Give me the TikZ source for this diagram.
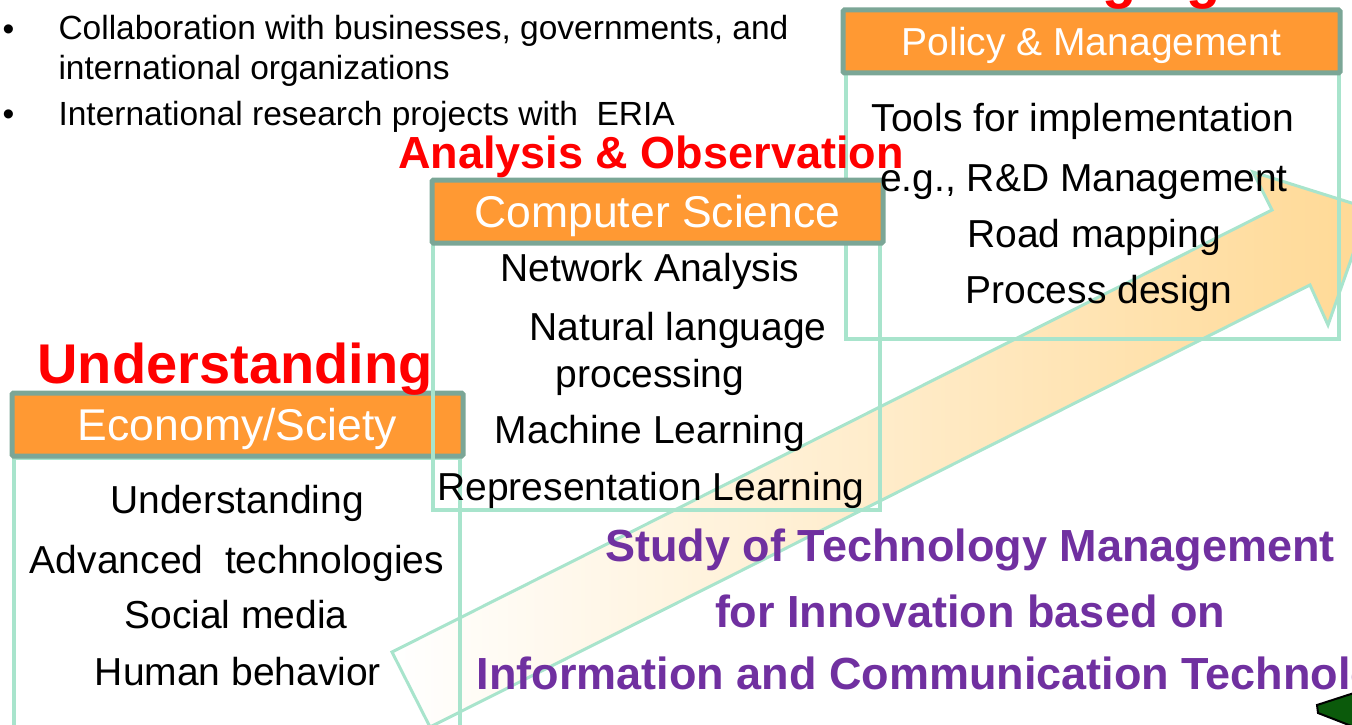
\documentclass[tikz,border=0pt]{standalone}
\usepackage{fontspec}
\setmainfont{Liberation Sans}
\usepackage{xcolor}
\usepackage{tikz}
\usetikzlibrary{positioning}

\definecolor{hdrfill}{HTML}{FF9933}
\definecolor{hdrline}{HTML}{7BA696}
\definecolor{mint}{HTML}{A8E4CC}
\definecolor{arrowc}{HTML}{FFD995}
\definecolor{studyc}{HTML}{7030A0}
\definecolor{slabc}{HTML}{0B5A0B}

\begin{document}
\begin{tikzpicture}[x=1pt, y=-1pt,
    hdr/.style={draw=hdrline, fill=hdrfill, line width=5pt, rounded corners=1.5pt,
      text=white, inner sep=0pt, text depth=0pt},
    bodybox/.style={draw=mint, line width=4pt},
    item/.style={anchor=base, font=\fontsize{39}{46}\selectfont},
    bullet/.style={anchor=base west, font=\fontsize{33.5}{40}\selectfont},
    stage/.style={anchor=base, text=red, font=\bfseries\fontsize{56}{64}\selectfont},
    study/.style={anchor=base, text=studyc, font=\bfseries\fontsize{45}{54}\selectfont}]

  \useasboundingbox (0,0) rectangle (1352,725);

  % the big arrow behind everything
  \path[draw=mint, line width=3pt, left color=white, middle color=arrowc!75, right color=arrowc]
    (392,652) -- (1272,210) -- (1253,172) -- (1369,208.5) -- (1328,325)
    -- (1310,285) -- (430,727) -- cycle;

  % Policy & Management
  \draw[bodybox] (846,73) rectangle (1339,339);
  \node[hdr, minimum width=497pt, minimum height=63pt, text height=28pt,
    font=\fontsize{39}{46}\selectfont] (policy) at (1091.5,41.5) {Policy \& Management};

  % Economy/Sciety
  \draw[bodybox] (14,458) rectangle (460,760);
  \node[hdr, minimum width=451pt, minimum height=63pt, text height=31.9pt,
    font=\fontsize{44.5}{52}\selectfont] (econ) at (237.5,424.5) {Economy/Sciety};

  % Computer Science
  \draw[bodybox] (433,243) rectangle (880,510);
  \node[hdr, minimum width=451pt, minimum height=63pt, text height=31.9pt,
    font=\fontsize{44.5}{52}\selectfont] (cs) at (657.5,211.5) {Computer Science};

  % red stage titles
  \node[stage] (tunder) at (235,383) {Understanding};
  \node[stage, font=\bfseries\fontsize{45}{54}\selectfont] (tanal) at (651,168) {Analysis \& Observation};
  \node[stage] (tmanag) at (1090,-2) {Managing};

  % bullets
  \node[bullet] (b1) at (-1,40.5) {•};
  \node[bullet] (l1) at (55,40) {Collaboration with businesses, governments, and};
  \node[bullet] (l2) at (55,79) {international organizations};
  \node[bullet] (b2) at (-1,125.5) {•};
  \node[bullet] (l3) at (55,125) {International research projects with~~ERIA};

  % Economy/Sciety items
  \node[item] (e1) at (237,513) {Understanding};
  \node[item] (e2) at (237,573) {Advanced~~technologies};
  \node[item] (e3) at (236,628) {Social media};
  \node[item] (e4) at (238,685) {Human behavior};

  % Computer Science items
  \node[item] (c1) at (650,281) {Network Analysis};
  \node[item] (c2) at (678,340) {Natural language};
  \node[item] (c3) at (650,387) {processing};
  \node[item] (c4) at (650,443) {Machine Learning};
  \node[item] (c5) at (651,500) {Representation Learning};

  % Policy & Management items
  \node[item] (p1) at (1083,131) {Tools for implementation};
  \node[item] (p2) at (1084,191) {e.g., R\&D Management};
  \node[item] (p3) at (1094,247) {Road mapping};
  \node[item] (p4) at (1099,303) {Process design};

  % purple title
  \node[study] (s1) at (970,561) {Study of Technology Management};
  \node[study] (s2) at (970,627) {for Innovation based on};
  \node[study, anchor=base west] (s3) at (473,689) {Information and Communication Technology};

  % green slab in the corner
  \draw[black, line width=2pt, fill=slabc] (1317,705) -- (1354,693) -- (1354,727) -- (1318,713) -- cycle;
\end{tikzpicture}
\end{document}
